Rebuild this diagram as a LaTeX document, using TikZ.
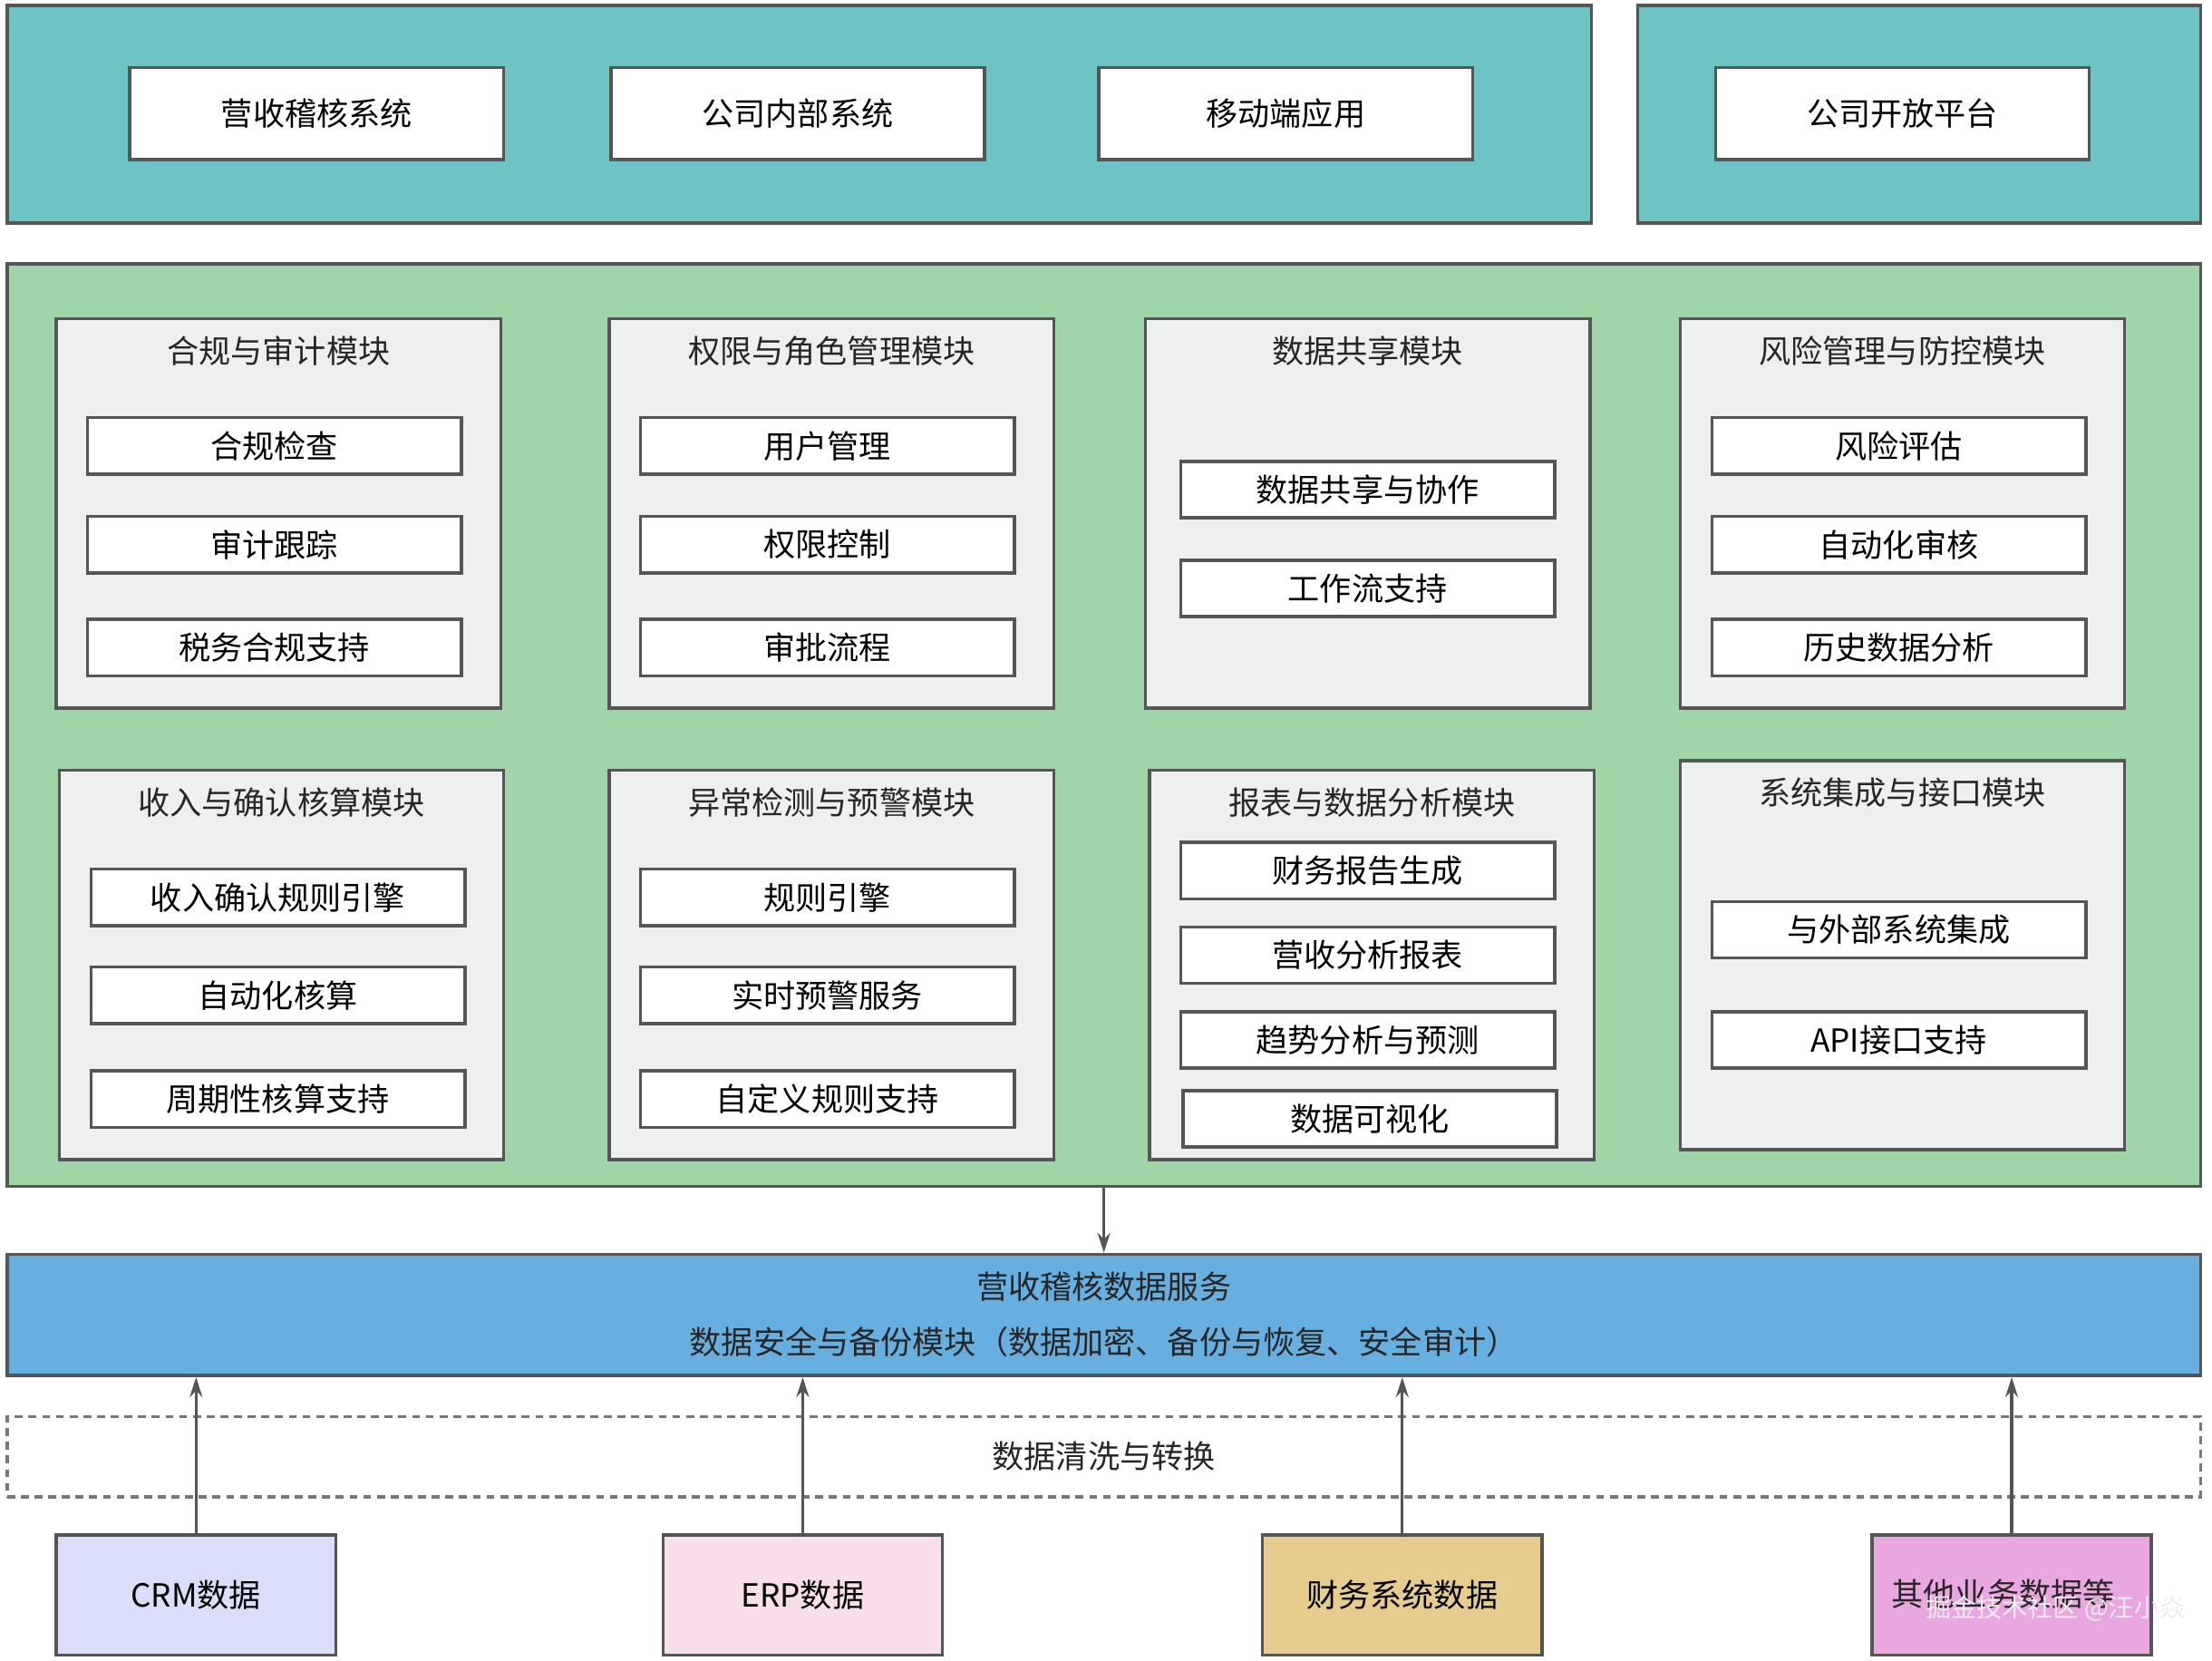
\documentclass[tikz,border=0pt]{standalone}
\usepackage{fontspec}
\setmainfont{Noto Sans CJK SC}
\usepackage{xcolor}
\usetikzlibrary{arrows.meta,positioning,calc}
\definecolor{tealbg}{HTML}{6EC4C2}
\definecolor{greenbg}{HTML}{A0D5A8}
\definecolor{modbg}{HTML}{EEEFEF}
\definecolor{bluebg}{HTML}{67AEE1}
\definecolor{edge}{HTML}{555555}
\definecolor{crmbg}{HTML}{DADEF8}
\definecolor{erpbg}{HTML}{F8DDEB}
\definecolor{finbg}{HTML}{E7CC8F}
\definecolor{othbg}{HTML}{E9A6DF}
\newcommand{\pxu}{0.01556cm}
\tikzset{
  layer/.style   = {draw=edge, line width=1pt, rectangle, inner sep=0pt},
  appbox/.style  = {layer, fill=white, minimum width=265*\pxu, minimum height=65*\pxu},
  modbox/.style  = {layer, fill=modbg, minimum width=315*\pxu, minimum height=276*\pxu},
  item/.style    = {layer, fill=white, minimum width=265*\pxu, minimum height=40*\pxu},
  srcbox/.style  = {layer, minimum width=198*\pxu, minimum height=85*\pxu},
  title/.style   = {inner sep=0pt, text=black!85},
  sig/.style     = {-{Stealth[length=2.2mm,width=1.4mm]}, draw=edge, line width=0.9pt},
}
\begin{document}
\begin{tikzpicture}[x=\pxu,y=-\pxu,font=\fontsize{10pt}{12pt}\selectfont]
\useasboundingbox (0,0) rectangle (1568,1177);
% top layer
\node[layer,fill=tealbg,minimum width=1123*\pxu,minimum height=154*\pxu] (apps) at (566.5,81) {};
\node[layer,fill=tealbg,minimum width=399*\pxu,minimum height=154*\pxu] (open) at (1360.5,81) {};
\node[appbox] (a1) at (224.5,80.5) {营收稽核系统};
\node[appbox] (a2) at (565.5,80.5) {公司内部系统};
\node[appbox] (a3) at (911.5,80.5) {移动端应用};
\node[appbox] (a4) at (1348.5,80.5) {公司开放平台};
% module layer
\node[layer,fill=greenbg,minimum width=1555*\pxu,minimum height=654*\pxu] (core) at (782.5,514) {};
\node[modbox] (m1) at (197.5,364) {};
\node[title] (t1) at (197.5,249) {合规与审计模块};
\node[item] (m1a) at (194.5,316) {合规检查};
\node[item] (m1b) at (194.5,386) {审计跟踪};
\node[item] (m1c) at (194.5,459) {税务合规支持};
\node[modbox] (m2) at (589.5,364) {};
\node[title] (t2) at (589.5,249) {权限与角色管理模块};
\node[item] (m2a) at (586.5,316) {用户管理};
\node[item] (m2b) at (586.5,386) {权限控制};
\node[item] (m2c) at (586.5,459) {审批流程};
\node[modbox] (m3) at (969.5,364) {};
\node[title] (t3) at (969.5,249) {数据共享模块};
\node[item] (m3a) at (969.5,347) {数据共享与协作};
\node[item] (m3b) at (969.5,417) {工作流支持};
\node[modbox] (m4) at (1348.5,364) {};
\node[title] (t4) at (1348.5,249) {风险管理与防控模块};
\node[item] (m4a) at (1346,316) {风险评估};
\node[item] (m4b) at (1346,386) {自动化审核};
\node[item] (m4c) at (1346,459) {历史数据分析};
\node[modbox] (m5) at (199.5,684) {};
\node[title] (t5) at (199.5,569) {收入与确认核算模块};
\node[item] (m5a) at (197,636) {收入确认规则引擎};
\node[item] (m5b) at (197,705.5) {自动化核算};
\node[item] (m5c) at (197,779) {周期性核算支持};
\node[modbox] (m6) at (589.5,684) {};
\node[title] (t6) at (589.5,569) {异常检测与预警模块};
\node[item] (m6a) at (586.5,636) {规则引擎};
\node[item] (m6b) at (586.5,705.5) {实时预警服务};
\node[item] (m6c) at (586.5,779) {自定义规则支持};
\node[modbox] (m7) at (972.5,684) {};
\node[title] (t7) at (972.5,569) {报表与数据分析模块};
\node[item] (m7a) at (969.5,617) {财务报告生成};
\node[item] (m7b) at (969.5,677) {营收分析报表};
\node[item] (m7c) at (969.5,737) {趋势分析与预测};
\node[item] (m7d) at (971,793) {数据可视化};
\node[modbox] (m8) at (1348.5,677) {};
\node[title] (t8) at (1348.5,562) {系统集成与接口模块};
\node[item] (m8a) at (1346,659) {与外部系统集成};
\node[item] (m8b) at (1346,737) {API接口支持};
% data service
\node[layer,fill=bluebg,minimum width=1555*\pxu,minimum height=86*\pxu] (svc) at (782.5,932) {};
\node[title] (s1) at (782.5,912) {营收稽核数据服务};
\node[title] (s2) at (782.5,951) {数据安全与备份模块（数据加密、备份与恢复、安全审计）};
\node[draw=edge!80,line width=1pt,dash pattern=on 2.5pt off 1.8pt,minimum width=1555*\pxu,minimum height=57*\pxu,inner sep=0pt] (etl) at (782.5,1032.5) {};
\node[title] (etlt) at (782.5,1032) {数据清洗与转换};
% sources
\node[srcbox,fill=crmbg] (crm) at (139,1130.5) {CRM数据};
\node[srcbox,fill=erpbg] (erp) at (569,1130.5) {ERP数据};
\node[srcbox,fill=finbg] (fin) at (994,1130.5) {财务系统数据};
\node[srcbox,fill=othbg] (oth) at (1426,1130.5) {};
\node[title] (otht) at (1420,1130) {其他业务数据等};
\node[inner sep=0pt,text=white!85!gray,font=\fontsize{8pt}{9pt}\selectfont] (wm) at (1457,1140) {掘金技术社区 @汪小焱};
% connectors
\draw[sig] (core.south) -- (svc.north);
\foreach \s in {crm,erp,fin,oth}
  \draw[sig] (\s.north) -- (\s.north |- svc.south);
\end{tikzpicture}
\end{document}
